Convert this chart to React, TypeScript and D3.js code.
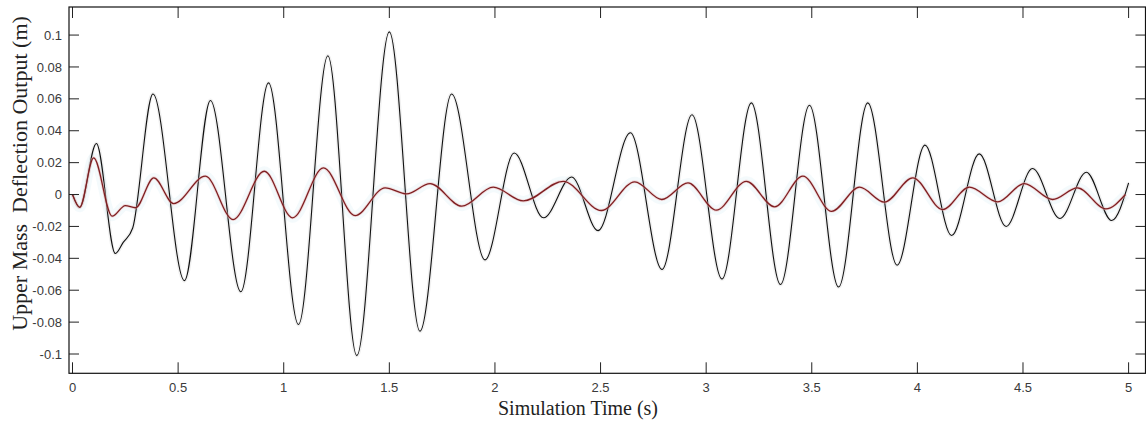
import React from "react";
import * as d3 from "d3";

// ---- data ----
const blackT = [0, 0.034, 0.113, 0.203, 0.24, 0.285, 0.381, 0.53, 0.653, 0.797, 0.928, 1.07, 1.209, 1.346, 1.5, 1.645, 1.795, 1.953, 2.091, 2.23, 2.363, 2.488, 2.641, 2.791, 2.933, 3.075, 3.214, 3.352, 3.489, 3.627, 3.765, 3.904, 4.036, 4.162, 4.293, 4.42, 4.545, 4.675, 4.8, 4.92, 5.0];
const blackV = [0, -0.008, 0.032, -0.037, -0.03, -0.021, 0.063, -0.054, 0.059, -0.061, 0.07, -0.0815, 0.087, -0.101, 0.102, -0.0857, 0.063, -0.041, 0.026, -0.0146, 0.011, -0.0226, 0.0387, -0.047, 0.05, -0.053, 0.0575, -0.0564, 0.056, -0.058, 0.0575, -0.0443, 0.031, -0.0257, 0.0255, -0.02, 0.0163, -0.015, 0.014, -0.0163, 0.0073];

const redT = [0, 0.034, 0.1, 0.188, 0.25, 0.298, 0.385, 0.479, 0.629, 0.76, 0.908, 1.042, 1.188, 1.338, 1.48, 1.582, 1.693, 1.843, 1.992, 2.134, 2.323, 2.504, 2.662, 2.79, 2.914, 3.048, 3.19, 3.324, 3.458, 3.594, 3.726, 3.844, 3.978, 4.12, 4.246, 4.38, 4.506, 4.64, 4.758, 4.892, 4.985];
const redV = [0, -0.008, 0.023, -0.0136, -0.0069, -0.0083, 0.0105, -0.0057, 0.0115, -0.0157, 0.0146, -0.0146, 0.0167, -0.0132, 0.0042, 0.0004, 0.0069, -0.0073, 0.0046, -0.004, 0.0083, -0.01, 0.008, -0.0031, 0.0073, -0.0098, 0.0083, -0.0077, 0.0115, -0.0105, 0.0046, -0.0048, 0.0105, -0.0094, 0.0046, -0.0046, 0.0069, -0.0031, 0.0042, -0.009, 0.0];

const xTicks = [0, 0.5, 1, 1.5, 2, 2.5, 3, 3.5, 4, 4.5, 5];
const xTickLabels = ["0", "0.5", "1", "1.5", "2", "2.5", "3", "3.5", "4", "4.5", "5"];
const yTicks = [0.1, 0.08, 0.06, 0.04, 0.02, 0, -0.02, -0.04, -0.06, -0.08, -0.1];
const yTickLabels = ["0.1", "0.08", "0.06", "0.04", "0.02", "0", "-0.02", "-0.04", "-0.06", "-0.08", "-0.1"];

const xTitle = "Simulation Time (s)";
const yTitle = "Upper Mass  Deflection Output (m)";

const W = 1146;
const H = 423;
const L = 69, R = 1145.5, T = 7, B = 373.3;

export default function App() {
  const x = d3.scaleLinear().domain([-0.0166, 5.08]).range([L, R]);
  const y = d3.scaleLinear().domain([-0.1121, 0.1176]).range([B, T]);

  const line = d3
    .line<[number, number]>()
    .x((d) => x(d[0]))
    .y((d) => y(d[1]))
    .curve(d3.curveMonotoneX);

  const blackPts: [number, number][] = blackT.map((t, i) => [t, blackV[i]]);
  const redPts: [number, number][] = redT.map((t, i) => [t, redV[i]]);
  const blackPath = line(blackPts) || "";
  const redPath = line(redPts) || "";

  const tickFont = "'Liberation Sans', Arial, sans-serif";
  const titleFont = "'Liberation Serif', 'Times New Roman', serif";

  return (
    <svg
      width={W}
      height={H}
      style={{ position: "absolute", left: 0, top: 0, background: "#fff" }}
    >
      <rect x={0} y={0} width={W} height={H} fill="#fff" />
      <defs>
        <clipPath id="plotclip">
          <rect x={L} y={T} width={R - L} height={B - T} />
        </clipPath>
      </defs>
      <g clipPath="url(#plotclip)">
        {/* faint JPEG-like halo around the red series */}
        <path d={redPath} fill="none" stroke="#e6f4f8" strokeWidth={10} opacity={0.45} />
        <path d={blackPath} fill="none" stroke="#000" strokeOpacity={0.06} strokeWidth={4} />
        <path d={blackPath} fill="none" stroke="#111" strokeWidth={1.1} />
        <path d={redPath} fill="none" stroke="#eab4b4" strokeWidth={3} opacity={0.45} />
        <path d={redPath} fill="none" stroke="#7e1f22" strokeWidth={1.3} />
      </g>

      {/* ticks */}
      {xTicks.map((t) => (
        <g key={"xt" + t}>
          <line x1={x(t)} x2={x(t)} y1={B} y2={B - 11} stroke="#222" strokeWidth={1} />
          <line x1={x(t)} x2={x(t)} y1={T} y2={T + 11} stroke="#222" strokeWidth={1} />
        </g>
      ))}
      {yTicks.map((v) => (
        <g key={"yt" + v}>
          <line x1={L} x2={L + 10} y1={y(v)} y2={y(v)} stroke="#222" strokeWidth={1} />
          <line x1={R} x2={R - 10} y1={y(v)} y2={y(v)} stroke="#222" strokeWidth={1} />
        </g>
      ))}

      {/* frame */}
      <rect x={L} y={T} width={R - L} height={B - T} fill="none" stroke="#111" strokeWidth={1.2} />

      {/* tick labels */}
      {xTicks.map((t, i) => (
        <text
          key={"xl" + t}
          x={x(t)}
          y={392}
          textAnchor="middle"
          fontFamily={tickFont}
          fontSize={13}
          fill="#3a3a3a"
        >
          {xTickLabels[i]}
        </text>
      ))}
      {yTicks.map((v, i) => (
        <text
          key={"yl" + v}
          x={62}
          y={y(v)}
          dy="0.35em"
          textAnchor="end"
          fontFamily={tickFont}
          fontSize={13}
          fill="#3a3a3a"
        >
          {yTickLabels[i]}
        </text>
      ))}

      {/* axis titles */}
      <text
        x={578}
        y={415}
        textAnchor="middle"
        fontFamily={titleFont}
        fontSize={20}
        fill="#222"
      >
        {xTitle}
      </text>
      <text
        transform="translate(27,173.5) rotate(-90)"
        textAnchor="middle"
        fontFamily={titleFont}
        fontSize={22}
        fill="#222"
        style={{ whiteSpace: "pre" }}
      >
        {yTitle}
      </text>
    </svg>
  );
}
